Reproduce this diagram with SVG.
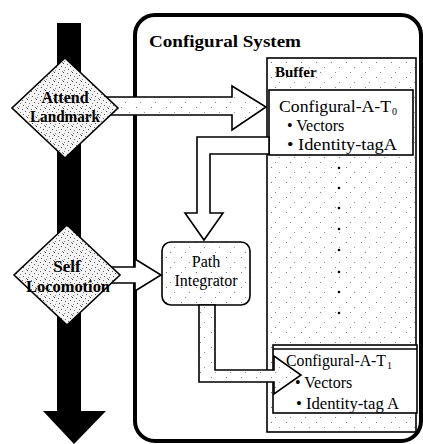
<svg xmlns="http://www.w3.org/2000/svg" width="423" height="444" viewBox="0 0 423 444">
<defs>
<pattern id="dense" width="9" height="9" patternUnits="userSpaceOnUse">
<rect width="9" height="9" fill="#f4f4f4"/>
<rect x="0" y="0" width="1" height="1" fill="#444"/>
<rect x="4" y="1" width="1" height="1" fill="#666"/>
<rect x="7" y="3" width="1" height="1" fill="#555"/>
<rect x="2" y="4" width="1" height="1" fill="#777"/>
<rect x="5" y="6" width="1" height="1" fill="#555"/>
<rect x="1" y="7" width="1" height="1" fill="#888"/>
<rect x="8" y="8" width="1" height="1" fill="#888"/>
</pattern>
<pattern id="light" width="15" height="15" patternUnits="userSpaceOnUse">
<rect width="15" height="15" fill="#fff"/>
<rect x="1" y="2" width="1" height="1" fill="#777"/>
<rect x="9" y="7" width="1" height="1" fill="#999"/>
<rect x="5" y="12" width="1" height="1" fill="#888"/>
</pattern>
<style>
.ol{stroke:#000;stroke-width:1.6;stroke-linejoin:miter}
.t{font-family:"Liberation Serif","Times New Roman",serif;fill:#000}
.b{font-weight:bold}
</style>
</defs>
<g id="configural-system">
<rect x="135" y="15" width="286" height="426" rx="20" ry="20" fill="#fff" stroke="#000" stroke-width="4"/>
<text class="t b" x="149" y="47" font-size="17" textLength="152" lengthAdjust="spacingAndGlyphs">Configural System</text>
</g>
<g id="time-arrow">
<rect x="57" y="23" width="24" height="390" fill="#000"/>
<polygon points="43,411 106,411 74,444" fill="#000"/>
</g>
<g id="buffer">
<rect x="267" y="58" width="149" height="374" fill="url(#light)" class="ol"/>
<text class="t b" x="275" y="77" font-size="15">Buffer</text>
<g fill="#000">
<circle cx="339" cy="168" r="1.3"/>
<circle cx="339" cy="188" r="1.3"/>
<circle cx="339" cy="208" r="1.3"/>
<circle cx="339" cy="229" r="1.3"/>
<circle cx="339" cy="250" r="1.3"/>
<circle cx="339" cy="272" r="1.3"/>
<circle cx="339" cy="292" r="1.3"/>
<circle cx="339" cy="313" r="1.3"/>
</g>
</g>
<g id="configural-t0">
<rect x="269" y="90" width="144" height="65" fill="#fff" class="ol"/>
<text class="t" x="279" y="112" font-size="16" textLength="112" lengthAdjust="spacingAndGlyphs">Configural-A-T</text>
<text class="t" x="392" y="115" font-size="10">0</text>
<text class="t" x="287" y="131" font-size="16">• Vectors</text>
<text class="t" x="287" y="150" font-size="16" textLength="110" lengthAdjust="spacingAndGlyphs">• Identity-tagA</text>
</g>
<g id="configural-t1">
<rect x="273" y="345" width="144" height="68" fill="#fff" class="ol"/>
<line x1="273" y1="349" x2="417" y2="349" class="ol"/>
<text class="t" x="286" y="366" font-size="16" textLength="100" lengthAdjust="spacingAndGlyphs">Configural-A-T</text>
<text class="t" x="387" y="369" font-size="10">1</text>
<text class="t" x="295" y="388" font-size="16">• Vectors</text>
<text class="t" x="296" y="409" font-size="16" textLength="103" lengthAdjust="spacingAndGlyphs">• Identity-tag A</text>
</g>
<g id="path-integrator">
<rect x="162" y="242" width="88" height="63" rx="9" ry="9" fill="url(#light)" class="ol"/>
<text class="t" x="206" y="267" font-size="16" text-anchor="middle">Path</text>
<text class="t" x="206" y="286" font-size="16" text-anchor="middle">Integrator</text>
</g>
<g id="connectors">
<polygon points="105,97 232,97 232,86 266,107 232,130 232,115 105,115" fill="url(#light)" class="ol"/>
<polygon points="105,267 135,267 135,259 161,275 135,291 135,283 105,283" fill="#fff" class="ol"/>
<polygon points="269,137 197,137 197,213 185,213 204,240 223,213 210,213 210,154 269,154" fill="#fff" class="ol"/>
<polygon points="199,305 199,382 274,382 274,394 301,375 274,356 274,370 215,370 215,305" fill="url(#light)" class="ol"/>
</g>
<g id="attend-landmark">
<polygon points="65,58 118,108 65,158 12,108" fill="url(#dense)" class="ol"/>
<text class="t b" x="65" y="103" font-size="16" text-anchor="middle">Attend</text>
<text class="t b" x="65" y="122" font-size="16" text-anchor="middle" textLength="70" lengthAdjust="spacingAndGlyphs">Landmark</text>
</g>
<g id="self-locomotion">
<polygon points="67,225 120,275 67,325 14,275" fill="url(#dense)" class="ol"/>
<text class="t b" x="67" y="272" font-size="17" text-anchor="middle">Self</text>
<text class="t b" x="68" y="292" font-size="17" text-anchor="middle" textLength="84" lengthAdjust="spacingAndGlyphs">Locomotion</text>
</g>
</svg>
